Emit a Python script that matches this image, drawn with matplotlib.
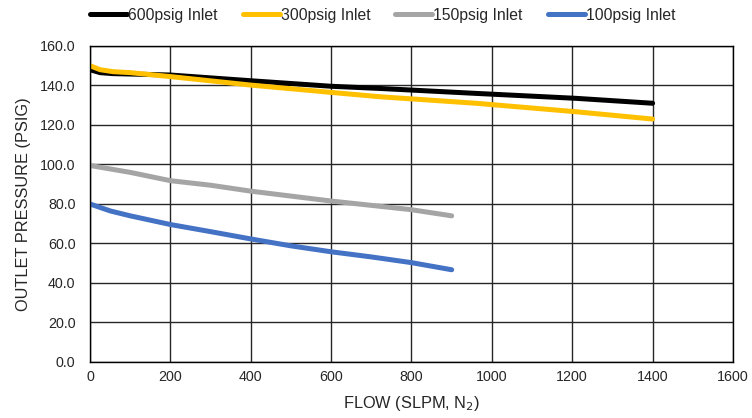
import matplotlib
matplotlib.use("Agg")
import matplotlib.pyplot as plt
from matplotlib.ticker import FormatStrFormatter

plt.rcParams['font.family'] = ['Liberation Sans', 'DejaVu Sans']

x_600 = [0, 25, 57, 100, 200, 400, 600, 721, 960, 1209, 1400]
y_600 = [148, 146.5, 146, 145.8, 145.3, 142.4, 139.6, 138.5, 136, 133.5, 131]

x_300 = [0, 25, 57, 100, 200, 400, 600, 721, 960, 1209, 1400]
y_300 = [150, 148, 147, 146.5, 144.5, 140.2, 136.5, 134.3, 131, 126.7, 123]

x_150 = [0, 100, 200, 300, 400, 500, 600, 700, 800, 900]
y_150 = [99.5, 96, 91.8, 89.5, 86.5, 84, 81.5, 79.3, 77.1, 74]

x_100 = [0, 50, 100, 200, 300, 400, 500, 600, 700, 800, 900]
y_100 = [80, 76.5, 74, 69.6, 66, 62.3, 58.8, 55.8, 53.2, 50.3, 46.7]

series = [
    ("600psig Inlet", x_600, y_600, "#000000"),
    ("300psig Inlet", x_300, y_300, "#FFC000"),
    ("150psig Inlet", x_150, y_150, "#A5A5A5"),
    ("100psig Inlet", x_100, y_100, "#4472C4"),
]

fig = plt.figure(figsize=(7.52, 4.18), dpi=100)
ax = fig.add_axes([0.1197, 0.134, 0.855, 0.756])

for label, xs, ys, c in series:
    ax.plot(xs, ys, color=c, lw=3.6, label=label, solid_capstyle='round', solid_joinstyle='round')

ax.set_xlim(0, 1600)
ax.set_ylim(0, 160)
ax.set_xticks(range(0, 1601, 200))
ax.set_yticks(range(0, 161, 20))
ax.yaxis.set_major_formatter(FormatStrFormatter('%.1f'))
ax.grid(True, color='#262626', lw=1.0)
ax.set_axisbelow(True)
for s in ax.spines.values():
    s.set_color('#000000')
    s.set_linewidth(1.0)
ax.tick_params(axis='both', length=0, labelsize=10.3, colors='#262626')
ax.tick_params(axis='x', pad=6)
ax.tick_params(axis='y', pad=10.5)
ax.set_xlabel("FLOW (SLPM, N$_2$)", fontsize=11.8, color='#262626', labelpad=7)
ax.set_ylabel("OUTLET PRESSURE (PSIG)", fontsize=11.8, color='#262626', labelpad=6)

leg = fig.legend(loc='upper center', bbox_to_anchor=(0.509, 1.015), ncol=4, frameon=False,
                 fontsize=11.3, handlelength=2.36, handletextpad=0.05, columnspacing=1.6)
for t in leg.get_texts():
    t.set_color('#262626')

fig.savefig("out.png", dpi=100)
